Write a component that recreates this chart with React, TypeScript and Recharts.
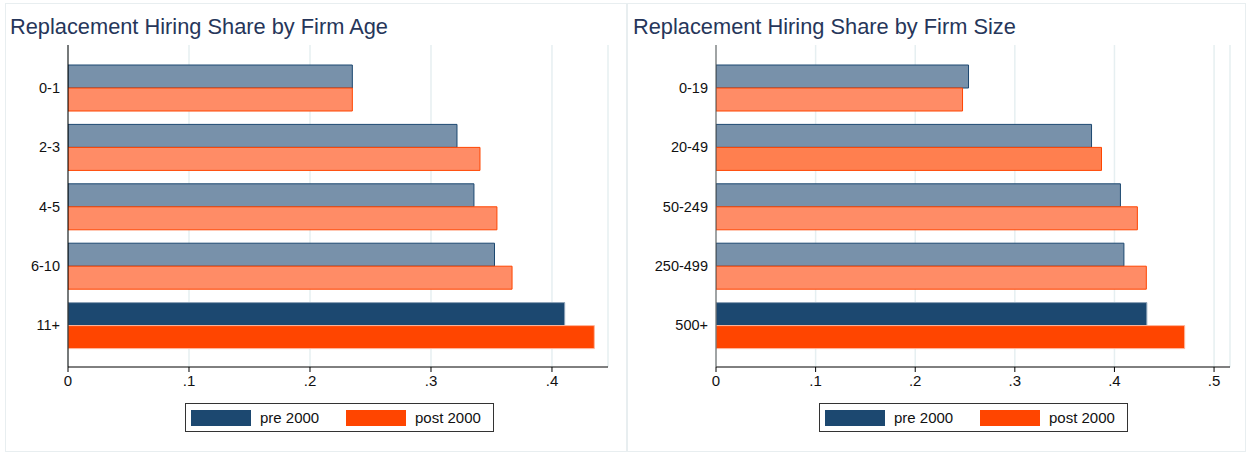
import { BarChart, Bar, XAxis, YAxis, CartesianGrid, Cell } from 'recharts'

const ageCategories = ['0-1', '2-3', '4-5', '6-10', '11+']
const agePre = [0.235, 0.3215, 0.3355, 0.3525, 0.4105]
const agePost = [0.235, 0.3405, 0.3545, 0.367, 0.435]
const ageTicks = [0, 0.1, 0.2, 0.3, 0.4]

const sizeCategories = ['0-19', '20-49', '50-249', '250-499', '500+']
const sizePre = [0.2535, 0.377, 0.406, 0.4095, 0.4325]
const sizePost = [0.2475, 0.387, 0.423, 0.432, 0.4705]
const sizeTicks = [0, 0.1, 0.2, 0.3, 0.4, 0.5]

const FONT = '"Liberation Sans", Arial, Helvetica, sans-serif'
const TITLE = '#26365a'
const PRE_DARK = '#1c4870'
const PRE_LIGHT = '#7891aa'
const POST_DARK = '#ff4500'
const POST_LIGHT = '#ff8c66'
const POST_MID = '#ff7f4f'
const GRID = '#e6eff1'
const FRAME = '#e8eef0'

const fmt = (v: number) => (v === 0 ? '0' : String(v).replace(/^0/, ''))

interface PanelProps {
  left: number
  width: number
  title: string
  categories: string[]
  pre: number[]
  post: number[]
  ticks: number[]
  xMax: number
  plotLeft: number
  plotRight: number
  yWidth: number
  axisColor: string
  postFills: string[]
  legendLeft: number
}

function Legend({ left }: { left: number }) {
  const sw = (c: string, x: number) => (
    <div
      style={{
        position: 'absolute',
        left: x,
        top: 6,
        width: 60,
        height: 16,
        background: c,
        outline: '1px solid rgba(255,255,255,0.35)',
      }}
    />
  )
  const txt = (t: string, x: number) => (
    <div style={{ position: 'absolute', left: x, top: 4, fontSize: 15, lineHeight: '19px', color: '#111' }}>{t}</div>
  )
  return (
    <div
      style={{
        position: 'absolute',
        left,
        top: 403,
        width: 307,
        height: 27,
        border: '1px solid #333',
        background: '#fff',
      }}
    >
      {sw(PRE_DARK, 5)}
      {txt('pre 2000', 74)}
      {sw(POST_DARK, 160)}
      {txt('post 2000', 229)}
    </div>
  )
}

function Panel(p: PanelProps) {
  const data = p.categories.map((name, i) => ({ name, pre: p.pre[i], post: p.post[i] }))
  const last = data.length - 1
  const H = 454
  return (
    <div style={{ position: 'absolute', left: p.left, top: 0, width: p.width, height: H }}>
      <div
        style={{
          position: 'absolute',
          left: 10,
          top: 14,
          fontSize: 21.8,
          lineHeight: '26px',
          color: TITLE,
          whiteSpace: 'nowrap',
        }}
      >
        {p.title}
      </div>
      <div style={{ position: 'absolute', left: 0, top: 0 }}>
        <BarChart
          layout="vertical"
          width={p.width}
          height={H}
          data={data}
          barGap={0}
          margin={{ top: 45, right: p.width - p.plotRight, bottom: H - 367 - 30, left: p.plotLeft - p.yWidth }}
        >
          <CartesianGrid horizontal={false} stroke={GRID} strokeWidth={1.5} />
          <XAxis
            type="number"
            domain={[0, p.xMax]}
            ticks={p.ticks}
            tickFormatter={fmt}
            height={30}
            tickSize={5}
            tickMargin={3}
            axisLine={{ stroke: '#000' }}
            tickLine={{ stroke: '#000' }}
            tick={{ fontSize: 15, fill: '#111', fontFamily: FONT }}
            allowDataOverflow
          />
          <YAxis
            type="category"
            dataKey="name"
            width={p.yWidth}
            tickLine={false}
            tickMargin={2}
            padding={{ top: 13, bottom: 12 }}
            axisLine={{ stroke: p.axisColor }}
            tick={{ fontSize: 14.5, fill: '#111', fontFamily: FONT }}
          />
          <Bar dataKey="pre" barSize={23} isAnimationActive={false}>
            {data.map((_, i) => (
              <Cell
                key={i}
                fill={i === last ? PRE_DARK : PRE_LIGHT}
                stroke={i === last ? '#8ea3b8' : PRE_DARK}
                strokeWidth={1}
              />
            ))}
          </Bar>
          <Bar dataKey="post" barSize={23} isAnimationActive={false}>
            {data.map((_, i) => (
              <Cell
                key={i}
                fill={i === last ? POST_DARK : p.postFills[i]}
                stroke={i === last ? '#ffb89e' : POST_DARK}
                strokeWidth={1}
              />
            ))}
          </Bar>
        </BarChart>
      </div>
      <Legend left={p.legendLeft} />
    </div>
  )
}

export default function App() {
  return (
    <div
      style={{
        position: 'relative',
        width: 1248,
        height: 454,
        background: '#fff',
        fontFamily: FONT,
        overflow: 'hidden',
      }}
    >
      <style>{'body{margin:0;}'}</style>
      <div style={{ position: 'absolute', left: 5, top: 3, width: 620, height: 447, border: `1px solid ${FRAME}` }} />
      <div style={{ position: 'absolute', left: 627, top: 3, width: 617, height: 447, border: `1px solid ${FRAME}` }} />
      <Panel
        left={0}
        width={626}
        title="Replacement Hiring Share by Firm Age"
        categories={ageCategories}
        pre={agePre}
        post={agePost}
        ticks={ageTicks}
        xMax={0.4463}
        plotLeft={68}
        plotRight={608}
        yWidth={60}
        axisColor="#000"
        postFills={[POST_LIGHT, POST_LIGHT, POST_LIGHT, POST_LIGHT, POST_DARK]}
        legendLeft={185}
      />
      <Panel
        left={623}
        width={625}
        title="Replacement Hiring Share by Firm Size"
        categories={sizeCategories}
        pre={sizePre}
        post={sizePost}
        ticks={sizeTicks}
        xMax={0.516}
        plotLeft={93}
        plotRight={607}
        yWidth={80}
        axisColor="#555"
        postFills={[POST_LIGHT, POST_MID, POST_LIGHT, POST_LIGHT, POST_DARK]}
        legendLeft={196}
      />
    </div>
  )
}
